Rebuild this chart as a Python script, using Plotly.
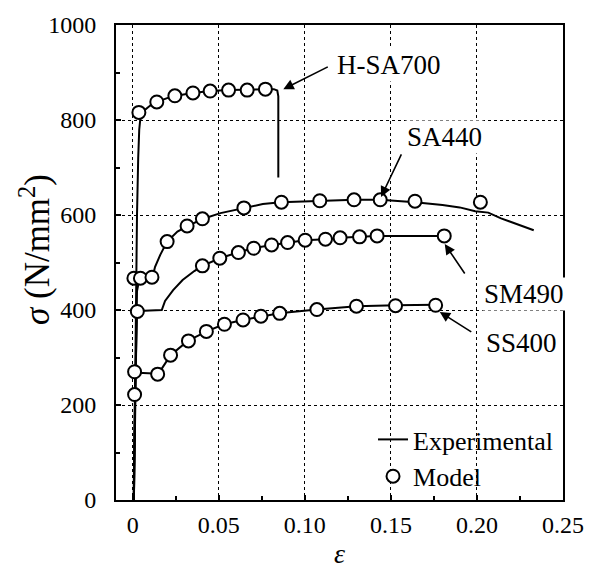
import plotly.graph_objects as go

# ---------------- data ----------------
# Experimental curves (strain, stress N/mm^2)
hsa700_exp_x = [0.0007, 0.0015, 0.0025, 0.0032, 0.0038, 0.0045, 0.006, 0.010, 0.014, 0.020, 0.025,
                0.035, 0.045, 0.056, 0.066, 0.077, 0.082, 0.0840, 0.0846, 0.0846]
hsa700_exp_y = [0, 300, 600, 720, 780, 805, 818, 830, 838, 846, 851,
                857, 861, 863, 864, 865, 865, 862, 850, 679]

sa440_exp_x = [0.0007, 0.0015, 0.0025, 0.004, 0.008, 0.0115, 0.013, 0.016, 0.020, 0.026, 0.032,
               0.041, 0.051, 0.065, 0.0756, 0.086, 0.108, 0.129, 0.144, 0.164, 0.180, 0.190,
               0.199, 0.2066, 0.214, 0.224, 0.233]
sa440_exp_y = [0, 250, 440, 468, 468, 469, 491, 516, 544, 565, 577,
               592, 604, 615, 623, 627, 630, 632, 632, 627, 621, 616,
               608, 605, 593, 580, 568]

sm490_exp_x = [0.0007, 0.0015, 0.0025, 0.004, 0.010, 0.0169, 0.0188, 0.0235, 0.029, 0.0358,
               0.0405, 0.0506, 0.061, 0.070, 0.081, 0.090, 0.100, 0.112, 0.1205, 0.132, 0.142,
               0.160, 0.181]
sm490_exp_y = [0, 250, 390, 398, 399, 400, 419, 442, 463, 482,
               493, 509, 521, 530, 537, 542, 547, 549, 552, 554, 556,
               556, 556]

ss400_exp_x = [0.0005, 0.001, 0.0015, 0.003, 0.008, 0.015, 0.022, 0.032, 0.043, 0.053, 0.064,
               0.075, 0.085, 0.107, 0.130, 0.153, 0.176]
ss400_exp_y = [0, 200, 268, 268, 267, 266, 305, 335, 355, 370, 379,
               387, 393, 401, 408, 410, 411]

# Model points
hsa700_mod_x = [0.0036, 0.014, 0.0245, 0.035, 0.045, 0.0557, 0.0665, 0.0771]
hsa700_mod_y = [816, 838, 851, 857, 861, 863, 863, 865]

sa440_mod_x = [0.0007, 0.0045, 0.0112, 0.020, 0.0316, 0.0405, 0.0646, 0.0864, 0.1087, 0.1286,
               0.1438, 0.164, 0.202]
sa440_mod_y = [467, 467, 469, 544, 577, 592, 615, 627, 630, 632, 632, 629, 627]

sm490_mod_x = [0.0027, 0.0405, 0.0506, 0.0614, 0.0703, 0.0807, 0.090, 0.1002, 0.112, 0.1205,
               0.1318, 0.142, 0.181]
sm490_mod_y = [397, 493, 509, 521, 530, 537, 542, 547, 549, 552, 554, 556, 556]

ss400_mod_x = [0.0011, 0.0011, 0.0145, 0.022, 0.0324, 0.0428, 0.0533, 0.0641, 0.0745, 0.0854,
               0.107, 0.1300, 0.1527, 0.176]
ss400_mod_y = [222, 270, 265, 305, 335, 355, 370, 379, 387, 393, 401, 408, 409, 410]

x_tickvals = [0, 0.05, 0.10, 0.15, 0.20, 0.25]
x_ticktext = ["0", "0.05", "0.10", "0.15", "0.20", "0.25"]
y_tickvals = [0, 200, 400, 600, 800, 1000]

# Labels: (text, text_x, text_y, arrow_head_x, arrow_head_y, ax, ay)
labels = [
    ("H-SA700", 0.1491, 916, 0.0875, 865, 46, -23),
    ("SA440", 0.1812, 764, 0.1443, 638, 21, -44),
    ("SM490", 0.2273, 434, 0.1813, 539, 21, 31),
    ("SS400", 0.2260, 330, 0.1784, 396, 33, 21),
]

FONT = "Liberation Serif"

fig = go.Figure()

exp_sets = [(hsa700_exp_x, hsa700_exp_y), (sa440_exp_x, sa440_exp_y),
            (sm490_exp_x, sm490_exp_y), (ss400_exp_x, ss400_exp_y)]
mod_sets = [(hsa700_mod_x, hsa700_mod_y), (sa440_mod_x, sa440_mod_y),
            (sm490_mod_x, sm490_mod_y), (ss400_mod_x, ss400_mod_y)]

for i, (xs, ys) in enumerate(exp_sets):
    fig.add_trace(go.Scatter(
        x=xs, y=ys, mode="lines", line=dict(color="black", width=2),
        name="Experimental", legendgroup="exp", showlegend=(i == 0), legendrank=1,
    ))

for i, (xs, ys) in enumerate(mod_sets):
    fig.add_trace(go.Scatter(
        x=xs, y=ys, mode="markers",
        marker=dict(symbol="circle", size=13, color="white",
                    line=dict(color="black", width=2)),
        name="Model", legendgroup="mod", showlegend=(i == 0), legendrank=2,
    ))

for text, tx, ty, hx, hy, ax, ay in labels:
    fig.add_annotation(x=tx, y=ty, text=text, showarrow=False,
                       font=dict(family=FONT, size=27, color="black"),
                       bgcolor="white", borderpad=1)
    fig.add_annotation(x=hx, y=hy, text="", showarrow=True, ax=ax, ay=ay,
                       arrowhead=2, arrowsize=1.3, arrowwidth=1.6, arrowcolor="black")

# axis titles
fig.add_annotation(xref="paper", yref="paper", x=-0.1816, y=0.528, textangle=-90,
                   xanchor="center", yanchor="middle",
                   text="<i>σ</i> (N/mm<sup>2</sup>)", showarrow=False,
                   font=dict(family=FONT, size=35, color="black"))
fig.add_annotation(xref="paper", yref="paper", x=0.501, y=-0.1495,
                   xanchor="center", yanchor="bottom",
                   text="<i>ε</i>", showarrow=False,
                   font=dict(family=FONT, size=28, color="black"))

axis_common = dict(
    showline=True, linecolor="black", linewidth=2, mirror=True,
    ticks="inside", ticklen=5, tickwidth=1.5, tickcolor="black",
    showgrid=True, gridcolor="black", gridwidth=1.3, griddash="dot",
    zeroline=False,
    tickfont=dict(family=FONT, size=24, color="black"),
)

fig.update_xaxes(range=[-0.0097, 0.25], tickvals=x_tickvals, ticktext=x_ticktext,
                 ticklabelstandoff=2,
                 minor=dict(ticks="inside", ticklen=4, tickcolor="black", tickwidth=1.5,
                            dtick=0.025, tick0=0, showgrid=False),
                 **axis_common)
fig.update_yaxes(range=[0, 1000], tickvals=y_tickvals, ticklabelstandoff=13,
                 minor=dict(ticks="inside", ticklen=4, tickcolor="black", tickwidth=1.5,
                            dtick=100, tick0=0, showgrid=False),
                 **axis_common)

fig.update_layout(
    width=596, height=572,
    margin=dict(l=116, r=23, t=25, b=72),
    paper_bgcolor="white", plot_bgcolor="white",
    font=dict(family=FONT, color="black"),
    showlegend=True,
    legend=dict(x=0.575, y=0.0, xanchor="left", yanchor="bottom",
                bgcolor="rgba(0,0,0,0)", font=dict(family=FONT, size=26, color="black"),
                tracegroupgap=0, itemwidth=30),
)

fig.write_html("out.html",
               config={"displayModeBar": False},
               post_script="document.body.style.margin='0';document.body.style.overflow='hidden';")
